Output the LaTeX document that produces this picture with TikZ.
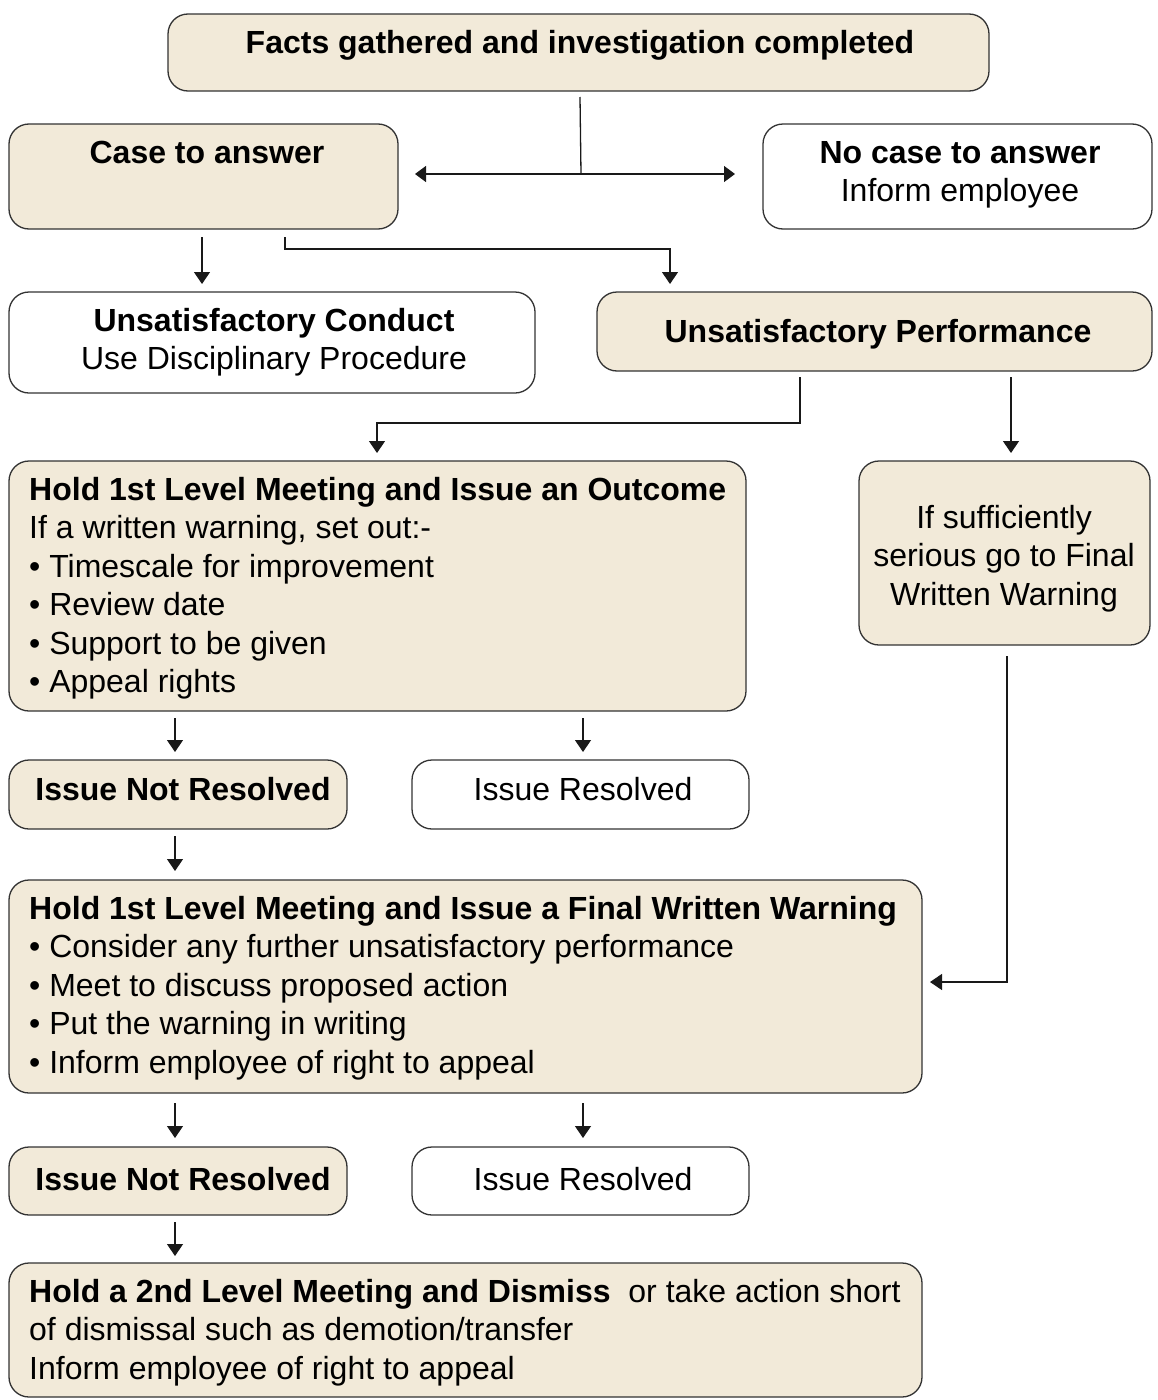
\documentclass[tikz,border=0pt]{standalone}
\usepackage{fontspec}
\setmainfont{Liberation Sans}
\usetikzlibrary{arrows.meta}
\definecolor{beige}{HTML}{F2EAD9}
\definecolor{edge}{HTML}{333333}
\newcommand{\mkbox}[6]{%
  \node[boxstyle, fill=#6, minimum width={#4-#2}, minimum height={#5-#3}, anchor=north west] (#1) at (#2,#3) {};}
\newcommand{\clines}[1]{\begin{tabular}[t]{@{}c@{}}#1\end{tabular}}
\newcommand{\llines}[1]{\begin{tabular}[t]{@{}l@{}}#1\end{tabular}}
\begin{document}
\begin{tikzpicture}[x=1pt,y=-1pt,
  boxstyle/.style={draw=edge, line width=1.3pt, rounded corners=20pt, inner sep=0pt, outer sep=0pt},
  txt/.style={inner sep=0pt, anchor=base, font=\fontsize{32}{38.5}\selectfont},
  ltxt/.style={txt, anchor=base west},
  conn/.style={draw=black!90, line width=1.3pt},
  arr/.style={conn, -{Triangle[length=12pt,width=16pt]}},
  darr/.style={conn, {Triangle[length=11pt,width=16pt]}-{Triangle[length=11pt,width=16pt]}}]
\fill[white] (0,0) rectangle (1158,1400);
\useasboundingbox (0,0) rectangle (1158,1400);
% boxes
\mkbox{top}{168}{14}{989}{91}{beige}
\mkbox{case}{9}{124}{398}{229}{beige}
\mkbox{nocase}{763}{124}{1152}{229}{white}
\mkbox{conduct}{9}{292}{535}{393}{white}
\mkbox{perf}{597}{292}{1152}{371}{beige}
\mkbox{hold}{9}{461}{746}{711}{beige}
\mkbox{serious}{859}{461}{1150}{645}{beige}
\mkbox{nra}{9}{760}{347}{829}{beige}
\mkbox{ra}{412}{760}{749}{829}{white}
\mkbox{fww}{9}{880}{922}{1093}{beige}
\mkbox{nrb}{9}{1147}{347}{1215}{beige}
\mkbox{rb}{412}{1147}{749}{1215}{white}
\mkbox{final}{9}{1263}{922}{1397}{beige}
% texts
\node[txt] (ttop) at (580,53) {\textbf{Facts gathered and investigation completed}};
\node[txt] (tcase) at (207,163) {\textbf{Case to answer}};
\node[txt] (tnocase) at (960,163) {\clines{\textbf{No case to answer}\\Inform employee}};
\node[txt] (tconduct) at (274,331) {\clines{\textbf{Unsatisfactory Conduct}\\Use Disciplinary Procedure}};
\node[txt] (tperf) at (878,342) {\textbf{Unsatisfactory Performance}};
\node[ltxt] (thold) at (29,500) {\llines{\textbf{Hold 1st Level Meeting and Issue an Outcome}\\
If a written warning, set out:-\\
• Timescale for improvement\\
• Review date\\
• Support to be given\\
• Appeal rights}};
\node[txt] (tserious) at (1004,528) {\clines{If sufficiently\\serious go to Final\\Written Warning}};
\node[txt] (tnra) at (183,800) {\textbf{Issue Not Resolved}};
\node[txt] (tra) at (583,800) {Issue Resolved};
\node[ltxt] (tfww) at (29,919) {\llines{\textbf{Hold 1st Level Meeting and Issue a Final Written Warning}\\
• Consider any further unsatisfactory performance\\
• Meet to discuss proposed action\\
• Put the warning in writing\\
• Inform employee of right to appeal}};
\node[txt] (tnrb) at (183,1190) {\textbf{Issue Not Resolved}};
\node[txt] (trb) at (583,1190) {Issue Resolved};
\node[ltxt] (tfinal) at (29,1302) {\llines{\textbf{Hold a 2nd Level Meeting and Dismiss}\ \ or take action short\\
of dismissal such as demotion/transfer\\
Inform employee of right to appeal}};
% connectors
\draw[conn] ([shift={(412,6)}]top.south west) -- ([shift={(-182,-55)}]nocase.south west);
\draw[darr] ([shift={(17,-55)}]case.south east) -- ([shift={(-28,-55)}]nocase.south west);
\draw[arr] ([shift={(193,8)}]case.south west) -- ([shift={(193,-8)}]conduct.north west);
\draw[arr] ([shift={(276,8)}]case.south west) -- ++(0,12) -| ([shift={(73,-8)}]perf.north west);
\draw[arr] ([shift={(203,6)}]perf.south west) -- ++(0,46) -| ([shift={(368,-8)}]hold.north west);
\draw[arr] ([shift={(414,6)}]perf.south west) -- ([shift={(152,-8)}]serious.north west);
\draw[arr] ([shift={(166,7)}]hold.south west) -- ([shift={(166,-8)}]nra.north west);
\draw[arr] ([shift={(574,7)}]hold.south west) -- ([shift={(171,-8)}]ra.north west);
\draw[arr] ([shift={(166,7)}]nra.south west) -- ([shift={(166,-9)}]fww.north west);
\draw[arr] ([shift={(148,11)}]serious.south west) |- ([shift={(8,-111)}]fww.south east);
\draw[arr] ([shift={(166,10)}]fww.south west) -- ([shift={(166,-9)}]nrb.north west);
\draw[arr] ([shift={(574,10)}]fww.south west) -- ([shift={(171,-9)}]rb.north west);
\draw[arr] ([shift={(166,7)}]nrb.south west) -- ([shift={(166,-7)}]final.north west);
\end{tikzpicture}
\end{document}
